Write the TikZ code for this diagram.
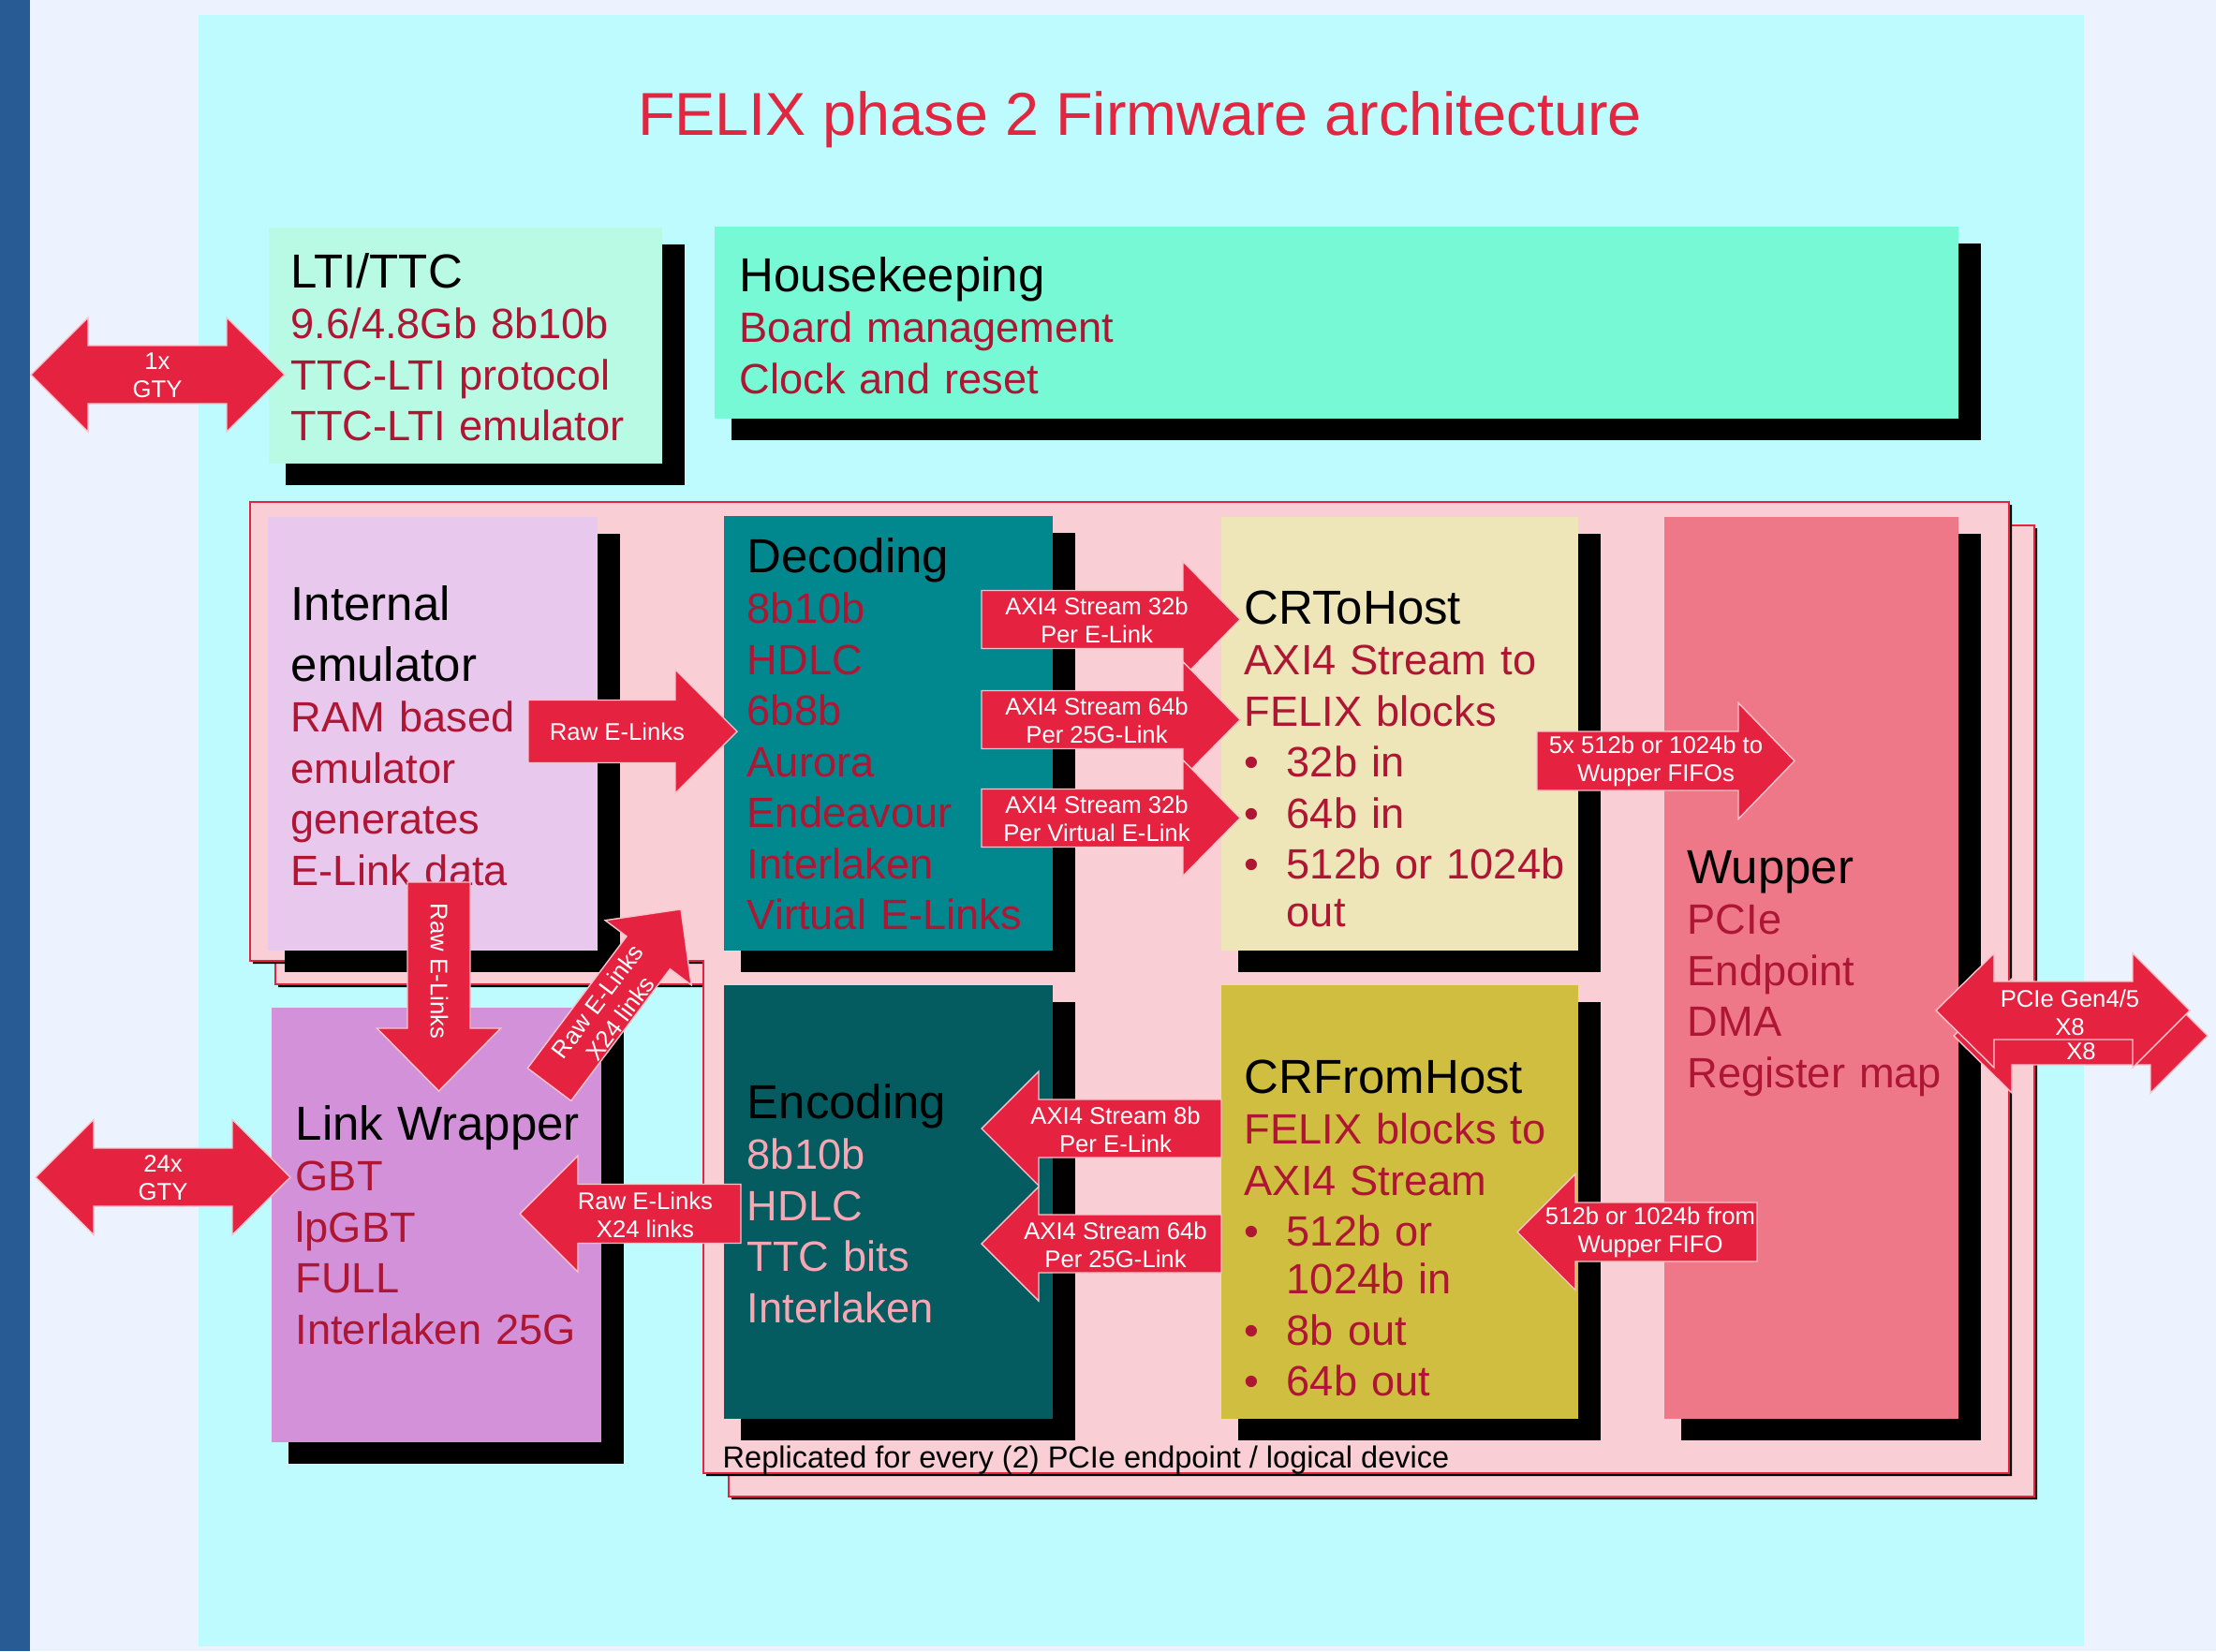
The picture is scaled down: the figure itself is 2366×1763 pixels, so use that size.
\documentclass[tikz,border=0pt]{standalone}
\usepackage{fontspec}
\setmainfont{Liberation Sans}
\usepackage{tikz}
\definecolor{pagebg}{HTML}{EDF3FE}
\definecolor{stripblue}{HTML}{285B94}
\definecolor{panelcyan}{HTML}{BEFBFE}
\definecolor{titlered}{HTML}{E3263F}
\definecolor{arrowred}{HTML}{E52340}
\definecolor{arrowedge}{HTML}{F7C4CC}
\definecolor{itemred}{HTML}{AE1733}
\definecolor{encpink}{HTML}{F5A8B3}
\definecolor{framepink}{HTML}{F9CED4}
\definecolor{ltigreen}{HTML}{B9FAE5}
\definecolor{hkgreen}{HTML}{78F9D6}
\definecolor{emulilac}{HTML}{E9C8EE}
\definecolor{decteal}{HTML}{00888E}
\definecolor{tohkhaki}{HTML}{EEE6B9}
\definecolor{wupsalmon}{HTML}{EF7888}
\definecolor{encteal}{HTML}{045B60}
\definecolor{fromolive}{HTML}{D0BE40}
\definecolor{lworchid}{HTML}{D391DA}
\newcommand{\titlefont}{\fontsize{14.5}{17.6}\selectfont}
\newcommand{\itemfont}{\fontsize{12.86}{14.5}\selectfont}
\newcommand{\labelfont}{\fontsize{7.3}{8.6}\selectfont}
\newcommand{\blockhead}[1]{{\titlefont\leavevmode{\color{black}#1}\par}}
\newcommand{\bulletline}[1]{\hangindent=12.8pt\hangafter=1\leavevmode\hbox to 12.8pt{\textbullet\hss}#1\par}
% x1,y1,x2,y2,colour
\newcommand{\blockbox}[5]{%
\fill[black] (#1+18,#2+18) rectangle (#3+24,#4+23);
\fill[#5] (#1,#2) rectangle (#3,#4);}
% tail x, head base x, tip x, centre y, shaft half, head half
\newcommand{\hblockarrow}[6]{%
\filldraw[blockarrow] (#1,#4-#5) -- (#2,#4-#5) -- (#2,#4-#6) -- (#3,#4) -- (#2,#4+#6) -- (#2,#4+#5) -- (#1,#4+#5) -- cycle;}
% left tip, left base, right base, right tip, centre y, shaft half, head half
\newcommand{\dblockarrow}[7]{%
\filldraw[blockarrow] (#1,#5) -- (#2,#5-#7) -- (#2,#5-#6) -- (#3,#5-#6) -- (#3,#5-#7) -- (#4,#5) -- (#3,#5+#7) -- (#3,#5+#6) -- (#2,#5+#6) -- (#2,#5+#7) -- cycle;}
\newcommand{\replframe}[2]{%
\begin{scope}[shift={(#1,#2)}]
\fill[black] (270,539) -- (2148,539) -- (2148,1576) -- (754,1576) -- (754,1029) -- (270,1029) -- cycle;
\filldraw[fill=framepink,draw=arrowred,line width=0.6pt] (267,536) -- (2145,536) -- (2145,1573) -- (751,1573) -- (751,1026) -- (267,1026) -- cycle;
\end{scope}}
\tikzset{
blockarrow/.style={fill=arrowred,draw=arrowedge,line width=0.4pt},
arrowlabel/.style={text=white,font=\labelfont,align=center,inner sep=0pt},
blocktext/.style={anchor=base west,inner sep=0pt,text width=8cm,align=left,font=\itemfont,text=itemred,
  execute at begin node={\setlength{\parskip}{1pt}}}
}
\begin{document}
\begin{tikzpicture}[x=0.01cm,y=-0.01cm,line join=miter]
\useasboundingbox (0,0) rectangle (2366,1763);
\fill[pagebg] (0,0) rectangle (2366,1763);
\fill[stripblue] (0,0) rectangle (32,1763);
\fill[panelcyan] (212,16) rectangle (2225,1758);

\node[anchor=base,inner sep=0pt,text=titlered,font=\fontsize{18.4}{22}\selectfont] (title) at (1217,144) {FELIX phase 2 Firmware architecture};

\blockbox{287}{243}{707}{495}{ltigreen}
\blockbox{763}{242}{2091}{447}{hkgreen}

\replframe{27}{25}
\replframe{0}{0}

\blockbox{286}{552}{638}{1015}{emulilac}
\blockbox{773}{551}{1124}{1015}{decteal}
\blockbox{1304}{552}{1685}{1015}{tohkhaki}
\blockbox{1777}{552}{2091}{1515}{wupsalmon}
\blockbox{773}{1052}{1124}{1515}{encteal}
\blockbox{1304}{1052}{1685}{1515}{fromolive}
\blockbox{290}{1076}{642}{1540}{lworchid}

\node[blocktext] (ltitext) at (310,307) {\blockhead{LTI/TTC}9.6/4.8Gb 8b10b\par TTC-LTI protocol\par TTC-LTI emulator};
\node[blocktext] (hktext) at (789,311) {\blockhead{Housekeeping}Board management\par Clock and reset};
\node[blocktext] (emutext) at (310,662) {\blockhead{Internal}\blockhead{emulator}RAM based\par emulator\par generates\par E-Link data};
\node[blocktext] (dectext) at (797,611) {\blockhead{Decoding}8b10b\par HDLC\par 6b8b\par Aurora\par Endeavour\par Interlaken\par Virtual E-Links};
\node[blocktext] (tohtext) at (1328,666) {\blockhead{CRToHost}AXI4 Stream to\par FELIX blocks\par \bulletline{32b in}\bulletline{64b in}\bulletline{512b or 1024b\newline out}};
\node[blocktext] (wuptext) at (1801,943) {\blockhead{Wupper}PCIe\par Endpoint\par DMA\par Register map};
\node[blocktext,text=encpink] (enctext) at (797,1194) {\blockhead{Encoding}8b10b\par HDLC\par TTC bits\par Interlaken};
\node[blocktext] (fromtext) at (1328,1167) {\blockhead{CRFromHost}FELIX blocks to\par AXI4 Stream\par \bulletline{512b or\newline 1024b in}\bulletline{8b out}\bulletline{64b out}};
\node[blocktext] (lwtext) at (315,1217) {\blockhead{Link Wrapper}GBT\par lpGBT\par FULL\par Interlaken 25G};
\node[anchor=base west,inner sep=0pt,font=\fontsize{9.25}{11}\selectfont] (repltext) at (771,1567) {Replicated for every (2) PCIe endpoint / logical device};

% links
\dblockarrow{33}{94}{242}{304}{400}{31}{61}
\node[arrowlabel] (gtyone) at (168,401) {1x\\GTY};
\dblockarrow{38}{100}{248}{310}{1257}{31}{61.5}
\node[arrowlabel] (gtymany) at (174,1258) {24x\\GTY};

\hblockarrow{564}{721}{787}{781}{33.5}{66}
\node[arrowlabel] (rawemu) at (659,781) {Raw E-Links};
\begin{scope}[shift={(468.5,942)},rotate=-90]
\hblockarrow{0}{156}{223}{0}{33.5}{66}
\end{scope}
\node[arrowlabel,rotate=-90] (rawdown) at (469,1037) {Raw E-Links};
\begin{scope}[shift={(586.5,1158)},rotate=53.1]
\hblockarrow{0}{176}{234}{0}{29}{57.5}
\end{scope}
\node[arrowlabel,rotate=53.1] (rawdiag) at (650,1078) {Raw E-Links\\X24 links};

\hblockarrow{1048}{1263}{1324}{661.5}{31}{62}
\node[arrowlabel] (axielink) at (1171,662) {AXI4 Stream 32b\\Per E-Link};
\hblockarrow{1048}{1263}{1324}{768.5}{31}{62}
\node[arrowlabel] (axi25g) at (1171,769) {AXI4 Stream 64b\\Per 25G-Link};
\hblockarrow{1048}{1263}{1324}{873.5}{31}{62}
\node[arrowlabel] (axivirt) at (1171,874) {AXI4 Stream 32b\\Per Virtual E-Link};
\hblockarrow{1641}{1856}{1916}{812.5}{31.5}{62}
\node[arrowlabel] (tofifo) at (1768,813) {5x 512b or 1024b to\\Wupper FIFOs};

\hblockarrow{791}{617}{555}{1296}{31.5}{62}
\node[arrowlabel] (rawleft) at (689,1297) {Raw E-Links\\X24 links};
\hblockarrow{1304}{1109}{1048}{1205}{31}{61}
\node[arrowlabel] (axiback) at (1191,1206) {AXI4 Stream 8b\\Per E-Link};
\hblockarrow{1304}{1109}{1048}{1328}{31}{61}
\node[arrowlabel] (axiback25g) at (1191,1329) {AXI4 Stream 64b\\Per 25G-Link};
\hblockarrow{1876}{1682}{1620}{1315.5}{31.5}{62}
\node[arrowlabel] (fromfifo) at (1762,1316) {512b or 1024b from\\Wupper FIFO};

\dblockarrow{2086}{2148}{2296}{2357}{1106}{31}{61}
\dblockarrow{2067}{2129}{2277}{2338}{1079}{31}{61}
\node[arrowlabel] (pciefront) at (2210,1081) {PCIe Gen4/5\\X8};
\node[arrowlabel] (pcieback) at (2222,1123) {X8};
\end{tikzpicture}
\end{document}
